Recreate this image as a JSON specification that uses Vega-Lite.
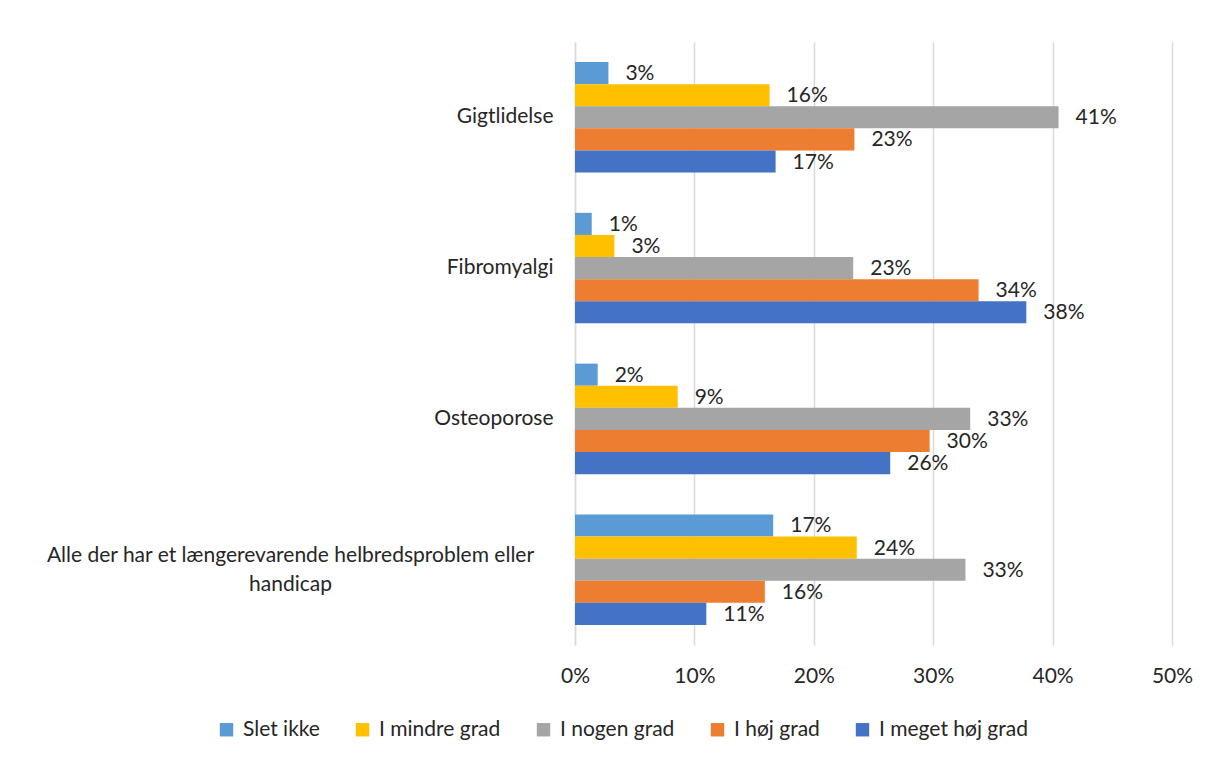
{
  "$schema": "https://vega.github.io/schema/vega-lite/v6.json",
  "width": 597,
  "height": 603,
  "autosize": {"type": "none"},
  "padding": {"left": 575, "top": 42, "right": 36, "bottom": 115},
  "background": "white",
  "config": {"font": "Lato", "view": {"stroke": null}},
  "data": {"values": [
    {"cat": "Gigtlidelse", "resp": "Slet ikke", "v": 0.028, "lbl": "3%"},
    {"cat": "Gigtlidelse", "resp": "I mindre grad", "v": 0.163, "lbl": "16%"},
    {"cat": "Gigtlidelse", "resp": "I nogen grad", "v": 0.405, "lbl": "41%"},
    {"cat": "Gigtlidelse", "resp": "I høj grad", "v": 0.234, "lbl": "23%"},
    {"cat": "Gigtlidelse", "resp": "I meget høj grad", "v": 0.168, "lbl": "17%"},
    {"cat": "Fibromyalgi", "resp": "Slet ikke", "v": 0.014, "lbl": "1%"},
    {"cat": "Fibromyalgi", "resp": "I mindre grad", "v": 0.033, "lbl": "3%"},
    {"cat": "Fibromyalgi", "resp": "I nogen grad", "v": 0.233, "lbl": "23%"},
    {"cat": "Fibromyalgi", "resp": "I høj grad", "v": 0.338, "lbl": "34%"},
    {"cat": "Fibromyalgi", "resp": "I meget høj grad", "v": 0.378, "lbl": "38%"},
    {"cat": "Osteoporose", "resp": "Slet ikke", "v": 0.019, "lbl": "2%"},
    {"cat": "Osteoporose", "resp": "I mindre grad", "v": 0.086, "lbl": "9%"},
    {"cat": "Osteoporose", "resp": "I nogen grad", "v": 0.331, "lbl": "33%"},
    {"cat": "Osteoporose", "resp": "I høj grad", "v": 0.297, "lbl": "30%"},
    {"cat": "Osteoporose", "resp": "I meget høj grad", "v": 0.264, "lbl": "26%"},
    {"cat": "Alle der har et længerevarende helbredsproblem eller handicap", "resp": "Slet ikke", "v": 0.166, "lbl": "17%"},
    {"cat": "Alle der har et længerevarende helbredsproblem eller handicap", "resp": "I mindre grad", "v": 0.236, "lbl": "24%"},
    {"cat": "Alle der har et længerevarende helbredsproblem eller handicap", "resp": "I nogen grad", "v": 0.327, "lbl": "33%"},
    {"cat": "Alle der har et længerevarende helbredsproblem eller handicap", "resp": "I høj grad", "v": 0.159, "lbl": "16%"},
    {"cat": "Alle der har et længerevarende helbredsproblem eller handicap", "resp": "I meget høj grad", "v": 0.11, "lbl": "11%"}
  ]},
  "encoding": {
    "y": {
      "field": "cat", "type": "nominal",
      "sort": ["Gigtlidelse", "Fibromyalgi", "Osteoporose", "Alle der har et længerevarende helbredsproblem eller handicap"],
      "scale": {"paddingInner": 0.267, "paddingOuter": 0.133},
      "axis": {
        "title": null,
        "ticks": false,
        "domain": true,
        "domainColor": "#d9d9d9",
        "domainWidth": 1.5,
        "labelFontSize": 21,
        "labelColor": "#262626",
        "labelLimit": 700,
        "labelLineHeight": 29,
        "labelBaseline": "middle",
        "labelExpr": "length(datum.value) > 40 ? ['Alle der har et længerevarende helbredsproblem eller', 'handicap'] : datum.value",
        "labelAlign": {"condition": {"test": "length(datum.value) > 40", "value": "center"}, "value": "right"},
        "labelPadding": {"condition": {"test": "length(datum.value) > 40", "value": 285}, "value": 22},
        "labelOffset": {"condition": {"test": "length(datum.value) > 40", "value": -14}, "value": 0}
      }
    },
    "yOffset": {
      "field": "resp", "type": "nominal",
      "sort": ["Slet ikke", "I mindre grad", "I nogen grad", "I høj grad", "I meget høj grad"],
      "scale": {"paddingInner": 0, "paddingOuter": 0}
    },
    "x": {
      "field": "v", "type": "quantitative",
      "scale": {"domain": [0, 0.5], "nice": false},
      "axis": {
        "title": null,
        "values": [0, 0.1, 0.2, 0.3, 0.4, 0.5],
        "format": ".0%",
        "grid": true,
        "gridColor": "#d9d9d9",
        "gridWidth": 1.5,
        "domain": false,
        "ticks": false,
        "labelFlush": false,
        "labelPadding": 20,
        "labelFontSize": 21,
        "labelColor": "#262626"
      }
    }
  },
  "layer": [
    {
      "mark": {"type": "bar"},
      "encoding": {
        "color": {
          "field": "resp", "type": "nominal",
          "sort": ["Slet ikke", "I mindre grad", "I nogen grad", "I høj grad", "I meget høj grad"],
          "scale": {
            "domain": ["Slet ikke", "I mindre grad", "I nogen grad", "I høj grad", "I meget høj grad"],
            "range": ["#5B9BD5", "#FFC000", "#A5A5A5", "#ED7D31", "#4472C4"]
          },
          "legend": {
            "title": null,
            "orient": "none",
            "direction": "horizontal",
            "legendX": -359,
            "legendY": 677,
            "symbolType": "square",
            "symbolSize": 180,
            "symbolStrokeWidth": 0,
            "symbolOpacity": 1,
            "labelFontSize": 21,
            "labelColor": "#262626",
            "labelOffset": 6,
            "columnPadding": 32,
            "labelLimit": 300
          }
        }
      }
    },
    {
      "mark": {"type": "text", "align": "left", "baseline": "middle", "dx": 17, "dy": 1, "fontSize": 21, "color": "#262626"},
      "encoding": {"text": {"field": "lbl"}}
    }
  ]
}
